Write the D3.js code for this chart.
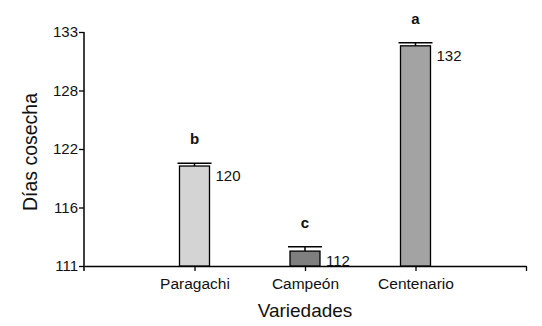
<!DOCTYPE html>
<html>
<head>
<meta charset="utf-8">
<script src="https://cdn.jsdelivr.net/npm/d3@7"></script>
<style>
  body { margin: 0; background: #fff; }
  svg { font-family: "Liberation Sans", Arial, sans-serif; }
</style>
</head>
<body>
<div id="chart"></div>
<script>
// données
const varietes = ["Paragachi", "Campeón", "Centenario"];
const moyennes = [120.4, 112.4, 131.7];
const erreurs = [0.25, 0.4, 0.3];
const etiquettes = ["120", "112", "132"];
const lettres = ["b", "c", "a"];
const couleurs = ["#d4d4d4", "#7f7f7f", "#a3a3a3"];
const ticksY = [111, 116.5, 122, 127.5, 133];
const ticksYLabels = ["111", "116", "122", "128", "133"];

const W = 542, H = 326;
const x0 = 84, x1 = 526, yTop = 32, yBas = 266;

const svg = d3.select("#chart").append("svg")
  .attr("width", W).attr("height", H);

// échelles
const x = d3.scalePoint()
  .domain(["_debut", ...varietes, "_fin"])
  .range([x0, x1]);
const y = d3.scaleLinear()
  .domain([111, 133])
  .range([yBas, yTop]);

const largeur = 30;

// axe X
const axeX = svg.append("g")
  .attr("transform", `translate(0,${yBas})`)
  .call(d3.axisBottom(x)
    .tickValues([...varietes, "_fin"])
    .tickSize(5)
    .tickSizeOuter(0)
    .tickFormat(d => varietes.includes(d) ? d : ""));
axeX.select(".domain").attr("stroke", "#000").attr("stroke-width", 1.5);
axeX.selectAll(".tick line").attr("stroke", "#000").attr("stroke-width", 1.3);
axeX.selectAll(".tick text")
  .attr("y", 12)
  .attr("fill", "#111")
  .style("font-size", "15.5px")
  .style("font-family", "Liberation Sans, Arial, sans-serif");

// axe Y
const axeY = svg.append("g")
  .attr("transform", `translate(${x0},0)`)
  .call(d3.axisLeft(y)
    .tickValues(ticksY)
    .tickSize(5)
    .tickSizeOuter(0)
    .tickFormat((d, i) => ticksYLabels[i]));
axeY.select(".domain").attr("stroke", "#000").attr("stroke-width", 1.5)
  .attr("d", `M0,${yTop}V${yBas + 5}`);
axeY.selectAll(".tick line").attr("stroke", "#000").attr("stroke-width", 1.3);
axeY.selectAll(".tick text")
  .attr("x", -6)
  .attr("fill", "#111")
  .style("font-size", "15px")
  .style("font-family", "Liberation Sans, Arial, sans-serif");

// barres
const data = varietes.map((v, i) => ({
  v, m: moyennes[i], e: erreurs[i], lab: etiquettes[i], l: lettres[i], c: couleurs[i]
}));

svg.append("g").selectAll("rect")
  .data(data)
  .join("rect")
    .attr("x", d => x(d.v) - largeur / 2)
    .attr("y", d => y(d.m))
    .attr("width", largeur)
    .attr("height", d => y(111) - y(d.m))
    .attr("fill", d => d.c)
    .attr("stroke", "#000")
    .attr("stroke-width", 1.3);

// barres d'erreur
const err = svg.append("g").attr("stroke", "#000").attr("stroke-width", 1.5);
err.selectAll("line.v")
  .data(data)
  .join("line")
    .attr("class", "v")
    .attr("x1", d => x(d.v)).attr("x2", d => x(d.v))
    .attr("y1", d => y(d.m)).attr("y2", d => y(d.m + d.e));
err.selectAll("line.cap")
  .data(data)
  .join("line")
    .attr("class", "cap")
    .attr("x1", d => x(d.v) - 17).attr("x2", d => x(d.v) + 17)
    .attr("y1", d => y(d.m + d.e)).attr("y2", d => y(d.m + d.e));

// valeurs
svg.append("g").selectAll("text")
  .data(data)
  .join("text")
    .attr("x", d => x(d.v) + largeur / 2 + 6)
    .attr("y", d => y(d.m) + 15)
    .attr("fill", "#111")
    .style("font-size", "15px")
    .text(d => d.lab);

// lettres de signification
svg.append("g").selectAll("text")
  .data(data)
  .join("text")
    .attr("x", d => x(d.v))
    .attr("y", d => y(d.m + d.e) - 19)
    .attr("text-anchor", "middle")
    .attr("fill", "#111")
    .style("font-size", "15px")
    .style("font-weight", "bold")
    .text(d => d.l);

// titres des axes
svg.append("text")
  .attr("transform", `translate(37,152) rotate(-90)`)
  .attr("text-anchor", "middle")
  .attr("fill", "#111")
  .style("font-size", "19.5px")
  .text("Días cosecha");

svg.append("text")
  .attr("x", 305)
  .attr("y", 317)
  .attr("text-anchor", "middle")
  .attr("fill", "#111")
  .style("font-size", "19px")
  .text("Variedades");
</script>
</body>
</html>
